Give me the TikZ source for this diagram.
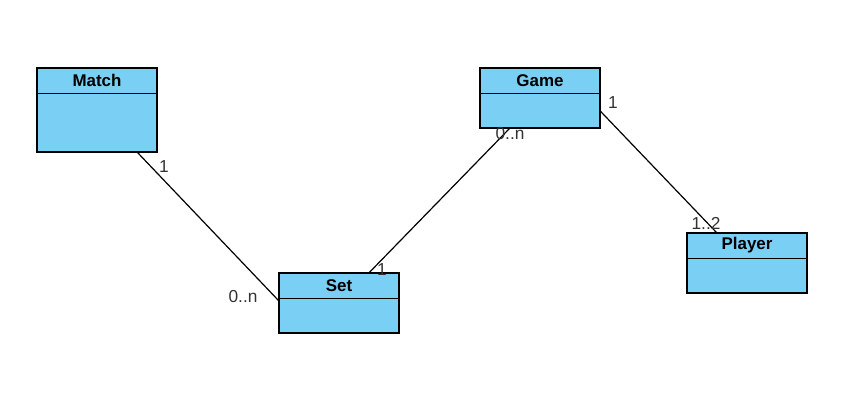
\documentclass[tikz,border=0pt]{standalone}
\usepackage{fontspec}
\setmainfont{Liberation Sans}
\usetikzlibrary{calc}
\definecolor{boxfill}{RGB}{122,207,244}
\definecolor{lbl}{RGB}{51,51,51}
\tikzset{
  classbox/.style={draw=black, fill=boxfill, line width=0.9pt, minimum width=90pt, inner sep=0pt},
  title/.style={font=\bfseries\fontsize{12.7pt}{14pt}\selectfont, inner sep=0pt},
  mult/.style={font=\fontsize{13pt}{15pt}\selectfont, text=lbl, inner sep=0pt},
  assoc/.style={draw=black, line width=0.9pt}
}
\begin{document}
\begin{tikzpicture}[x=0.75pt, y=-0.75pt]
\useasboundingbox (0,0) rectangle (848,404);
% boxes
\node[classbox, minimum height=63pt] (match) at (97,110) {};
\node[classbox, minimum height=45pt] (game) at (540,98) {};
\node[classbox, minimum height=45pt] (set) at (339,303) {};
\node[classbox, minimum height=45pt] (player) at (747,263) {};
% dividers
\draw[line width=0.9pt] ($(match.north west)+(0,26)$) -- ($(match.north east)+(0,26)$);
\draw[line width=0.9pt] ($(game.north west)+(0,26)$) -- ($(game.north east)+(0,26)$);
\draw[line width=0.9pt] ($(set.north west)+(0,26)$) -- ($(set.north east)+(0,26)$);
\draw[line width=0.9pt] ($(player.north west)+(0,26)$) -- ($(player.north east)+(0,26)$);
% titles
\node[title] (tmatch) at ($(match.north)+(0,13)$) {Match};
\node[title] (tgame) at ($(game.north)+(0,13)$) {Game};
\node[title] (tset) at ($(set.north)+(0,13)$) {Set};
\node[title] (tplayer) at ($(player.north)+(0,13)$) {Player};
% connectors
\coordinate (m1) at ($(match.south east)+(-20,0)$);
\coordinate (s1) at ($(set.north west)+(0,28)$);
\coordinate (g1) at ($(game.south west)+(30,0)$);
\coordinate (s2) at ($(set.north west)+(91,0)$);
\coordinate (g2) at ($(game.north east)+(0,44)$);
\coordinate (p1) at ($(player.north west)+(30,0)$);
\draw[assoc] (m1) -- (s1);
\draw[assoc] (g1) -- (s2);
\draw[assoc] (g2) -- (p1);
% multiplicities
\node[mult] (l1) at (164,167) {1};
\node[mult] (l2) at (243,297) {0..n};
\node[mult] (l3) at (382,270) {1};
\node[mult] (l4) at (510,134) {0..n};
\node[mult] (l5) at (613,103) {1};
\node[mult] (l6) at (706,223) {1..2};
\end{tikzpicture}
\end{document}
